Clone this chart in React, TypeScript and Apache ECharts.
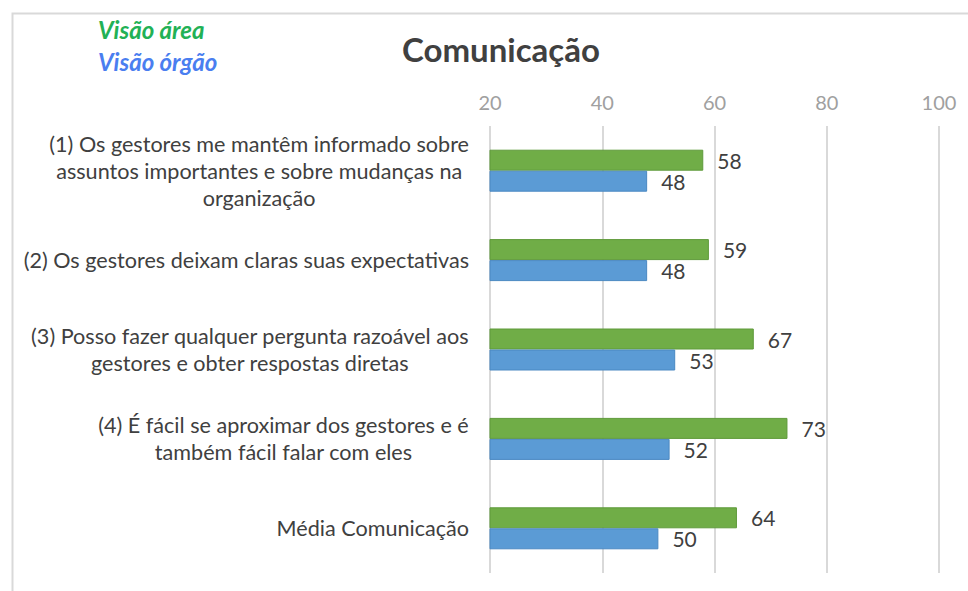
import React, { useEffect, useRef } from "react";
import * as echarts from "echarts";

const categories = [
  "(1) Os gestores me mantêm informado sobre\nassuntos importantes e sobre mudanças na\norganização",
  "(2) Os gestores deixam claras suas expectativas",
  "(3) Posso fazer qualquer pergunta razoável aos\ngestores e obter respostas diretas",
  "(4) É fácil se aproximar dos gestores e é\ntambém fácil falar com eles",
  "Média Comunicação",
];
const visaoArea = [58, 59, 67, 73, 64];
const visaoOrgao = [48, 48, 53, 52, 50];
const seriesNames = ["Visão área", "Visão órgão"];
const titleText = "Comunicação";

const FONT = "Lato, 'Open Sans', sans-serif";

export default function App() {
  const ref = useRef<HTMLDivElement>(null);
  useEffect(() => {
    document.body.style.margin = "0";
    const chart = echarts.init(ref.current!, null, { renderer: "svg" });
    chart.setOption({
      animation: false,
      backgroundColor: "#ffffff",
      textStyle: { fontFamily: FONT },
      title: {
        text: titleText,
        left: 496,
        top: 27,
        textAlign: "center",
        textStyle: { fontFamily: FONT, fontSize: 33, fontWeight: "bold", color: "#404040" },
      },
      graphic: [
        {
          type: "rect",
          left: 10,
          top: 11,
          shape: { width: 1000, height: 640 },
          style: { fill: "none", stroke: "#d9d9d9", lineWidth: 2 },
          silent: true,
        },
        {
          type: "text",
          left: 98,
          top: 17,
          style: {
            text: seriesNames[0],
            fontFamily: FONT,
            fontSize: 24,
            fontWeight: "bold",
            fontStyle: "italic",
            fill: "#22b155",
          },
        },
        {
          type: "text",
          left: 98,
          top: 49,
          style: {
            text: seriesNames[1],
            fontFamily: FONT,
            fontSize: 24,
            fontWeight: "bold",
            fontStyle: "italic",
            fill: "#4a7ef0",
          },
        },
      ],
      grid: { left: 490, right: 29, top: 126, bottom: 18, containLabel: false },
      xAxis: {
        type: "value",
        position: "top",
        min: 20,
        max: 100,
        interval: 20,
        axisLine: { show: false },
        axisTick: { show: false },
        axisLabel: { color: "#a0a0a0", fontSize: 20, fontFamily: FONT, margin: 14 },
        splitLine: { show: true, lineStyle: { color: "#d9d9d9", width: 2 } },
      },
      yAxis: {
        type: "category",
        inverse: true,
        data: categories,
        axisLine: { show: false },
        axisTick: { show: false },
        axisLabel: {
          margin: 21,
          align: "right",
          color: "#404040",
          fontSize: 21.6,
          fontFamily: FONT,
          lineHeight: 27,
          formatter: (v: string) => v.split("\n").map((l) => `{c|${l}}`).join("\n"),
          rich: {
            c: { align: "center", fontSize: 21.6, fontFamily: FONT, color: "#404040", lineHeight: 27 },
          },
        },
      },
      series: [
        {
          name: seriesNames[0],
          type: "bar",
          data: visaoArea,
          barWidth: 21,
          barGap: "0%",
          itemStyle: { color: "#70ad47", borderColor: "#5f9a3b", borderWidth: 1 },
          label: {
            show: true,
            position: "right",
            distance: 14,
            color: "#404040",
            fontSize: 21,
            fontFamily: FONT,
          },
        },
        {
          name: seriesNames[1],
          type: "bar",
          data: visaoOrgao,
          barWidth: 21,
          barGap: "0%",
          itemStyle: { color: "#5b9bd5", borderColor: "#4a88c2", borderWidth: 1 },
          label: {
            show: true,
            position: "right",
            distance: 14,
            color: "#404040",
            fontSize: 21,
            fontFamily: FONT,
          },
        },
      ],
    });
    return () => chart.dispose();
  }, []);
  return <div ref={ref} style={{ position: "fixed", left: 0, top: 0, width: 968, height: 591 }} />;
}
